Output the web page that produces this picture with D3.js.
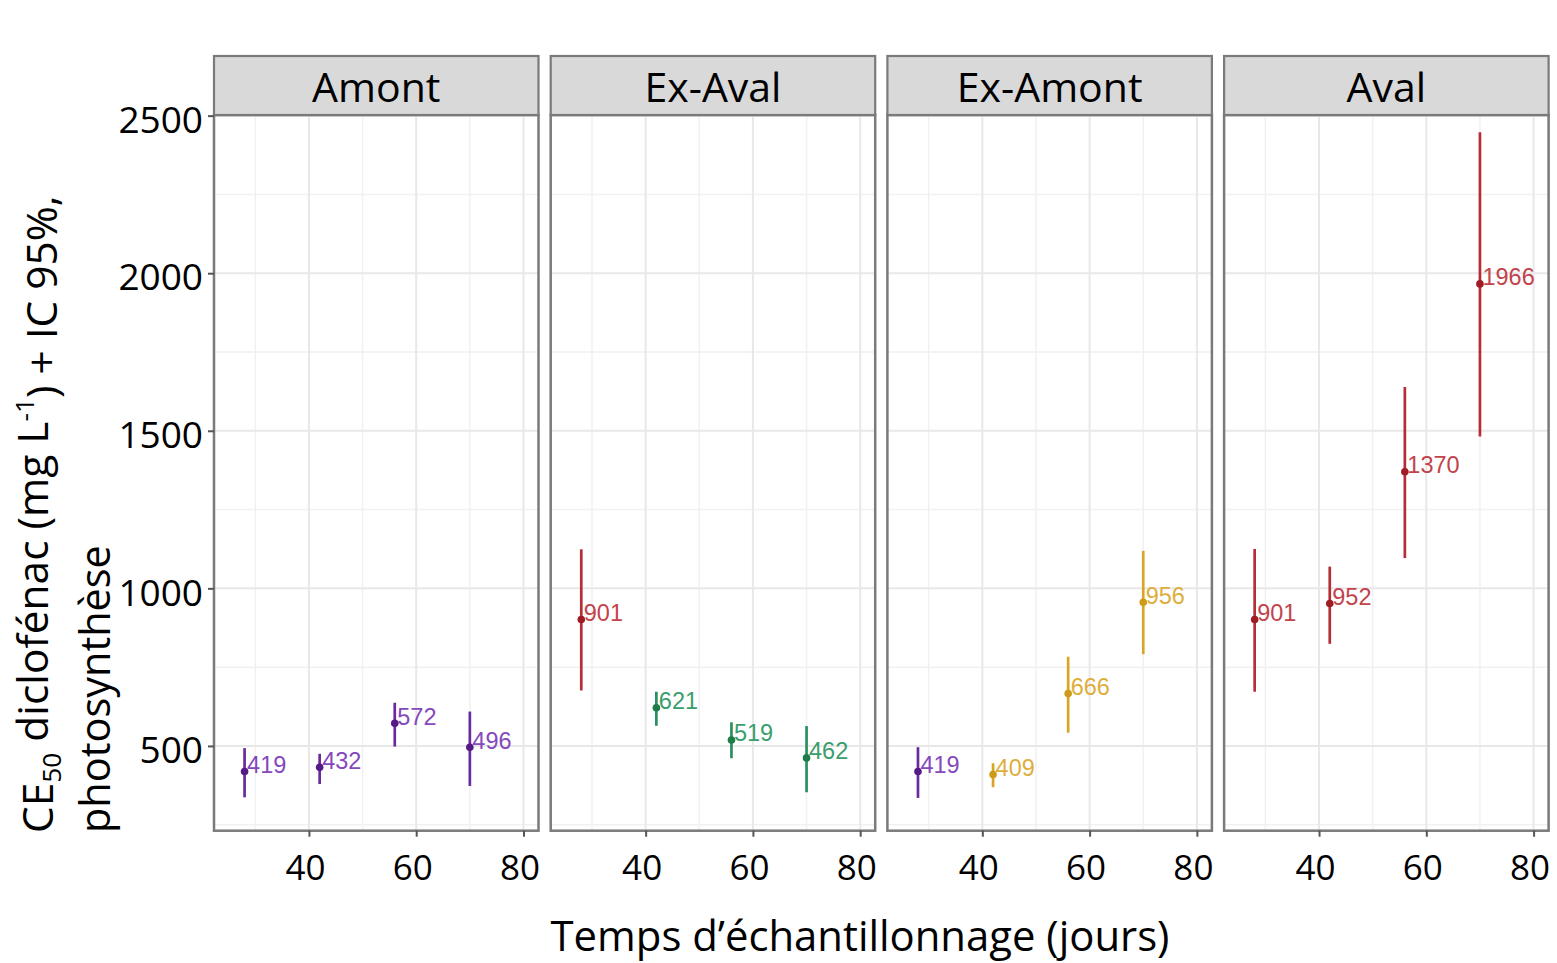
<!DOCTYPE html>
<html><head><meta charset="utf-8">
<script src="https://cdn.jsdelivr.net/npm/d3@7"></script>
<style>
html,body{margin:0;padding:0;background:#fff;}
svg{display:block;}
</style></head>
<body>
<svg id="chart" width="1557" height="963"></svg>
<script>
// ---- data ----
const facets = ["Amont", "Ex-Aval", "Ex-Amont", "Aval"];
const days = [28, 42, 56, 70];
const ec50Amont   = [419, 432, 572, 496];
const lowAmont    = [337, 379, 498, 373];
const highAmont   = [493, 475, 637, 609];
const ec50ExAval  = [901, 621, 519, 462];
const lowExAval   = [676, 564, 461, 353];
const highExAval  = [1124, 672, 575, 563];
const ec50ExAmont = [419, 409, 666, 956];
const lowExAmont  = [335, 369, 542, 791];
const highExAmont = [496, 445, 783, 1119];
const ec50Aval    = [901, 952, 1370, 1966];
const lowAval     = [672, 824, 1096, 1482];
const highAval    = [1125, 1069, 1639, 2447];
const groupAmont   = ["Amont", "Amont", "Amont", "Amont"];
const groupExAval  = ["Aval", "ExAval", "ExAval", "ExAval"];
const groupExAmont = ["Amont", "ExAmont", "ExAmont", "ExAmont"];
const groupAval    = ["Aval", "Aval", "Aval", "Aval"];
const xTicks = [40, 60, 80];
const xMinor = [30, 50, 70];
const yTicks = [500, 1000, 1500, 2000, 2500];
const yMinor = [250, 750, 1250, 1750, 2250];

const seriesByFacet = {
  "Amont":   {v: ec50Amont, lo: lowAmont, hi: highAmont, g: groupAmont},
  "Ex-Aval": {v: ec50ExAval, lo: lowExAval, hi: highExAval, g: groupExAval},
  "Ex-Amont":{v: ec50ExAmont, lo: lowExAmont, hi: highExAmont, g: groupExAmont},
  "Aval":    {v: ec50Aval, lo: lowAval, hi: highAval, g: groupAval}
};
const lineColor = {Amont: "#6a2a9c", ExAval: "#2a9060", ExAmont: "#d9a526", Aval: "#b52d36"};
const dotColor  = {Amont: "#561a88", ExAval: "#1d7d48", ExAmont: "#cf9a1a", Aval: "#9e1c24"};
const textColor = {Amont: "#8548bd", ExAval: "#3a9e6c", ExAmont: "#deae3c", Aval: "#c2434b"};

// ---- layout ----
const svg = d3.select("#chart");
const FONT = "'Open Sans', 'Noto Sans', sans-serif";
const panelTop = 115, panelBottom = 830.7;
const stripTop = 56;
const panelW = 324.5, panelStep = 336.7, firstLeft = 214;

const y = d3.scaleLinear().domain([231, 2502]).range([panelBottom, panelTop]);

function fitText(sel, target, size) {
  const w = sel.node().getComputedTextLength();
  if (w > 0) sel.attr("font-size", size * target / w);
}

facets.forEach((name, i) => {
  const left = firstLeft + i * panelStep;
  const x = d3.scaleLinear().domain([22.3, 82.8]).range([left, left + panelW]);
  const g = svg.append("g");

  g.append("rect").attr("x", left).attr("y", panelTop).attr("width", panelW)
    .attr("height", panelBottom - panelTop).attr("fill", "#fff");

  // minor grid
  g.selectAll(".ymin").data(yMinor.filter(d => y(d) > panelTop && y(d) < panelBottom)).join("line")
    .attr("x1", left).attr("x2", left + panelW).attr("y1", d => y(d)).attr("y2", d => y(d))
    .attr("stroke", "#f1f1f1").attr("stroke-width", 1.5);
  g.selectAll(".xmin").data(xMinor).join("line")
    .attr("x1", d => x(d)).attr("x2", d => x(d)).attr("y1", panelTop).attr("y2", panelBottom)
    .attr("stroke", "#f1f1f1").attr("stroke-width", 1.5);
  // major grid
  g.selectAll(".ymaj").data(yTicks).join("line")
    .attr("x1", left).attr("x2", left + panelW).attr("y1", d => y(d)).attr("y2", d => y(d))
    .attr("stroke", "#e8e8e8").attr("stroke-width", 2);
  g.selectAll(".xmaj").data(xTicks).join("line")
    .attr("x1", d => x(d)).attr("x2", d => x(d)).attr("y1", panelTop).attr("y2", panelBottom)
    .attr("stroke", "#e8e8e8").attr("stroke-width", 2);

  // data
  const s = seriesByFacet[name];
  const pts = days.map((d, k) => ({day: d, v: s.v[k], lo: s.lo[k], hi: s.hi[k], g: s.g[k]}));
  g.selectAll(".err").data(pts).join("line")
    .attr("x1", d => x(d.day)).attr("x2", d => x(d.day))
    .attr("y1", d => y(d.lo)).attr("y2", d => y(d.hi))
    .attr("stroke", d => lineColor[d.g]).attr("stroke-width", 2.7);
  g.selectAll(".pt").data(pts).join("circle")
    .attr("cx", d => x(d.day)).attr("cy", d => y(d.v)).attr("r", 3.8)
    .attr("fill", d => dotColor[d.g]);
  g.selectAll(".lab").data(pts).join("text")
    .attr("x", d => x(d.day) + 2.5).attr("y", d => y(d.v) + 1.5)
    .attr("font-family", "'Liberation Sans', Arial, sans-serif").attr("font-size", 23.5)
    .attr("fill", d => textColor[d.g]).text(d => d.v);

  // panel border
  g.append("rect").attr("x", left).attr("y", panelTop).attr("width", panelW)
    .attr("height", panelBottom - panelTop).attr("fill", "none")
    .attr("stroke", "#7a7a7a").attr("stroke-width", 2.5);

  // strip
  g.append("rect").attr("x", left).attr("y", stripTop).attr("width", panelW)
    .attr("height", panelTop - stripTop).attr("fill", "#d9d9d9")
    .attr("stroke", "#7a7a7a").attr("stroke-width", 2.2);
  g.append("text").attr("x", left + panelW / 2).attr("y", 102)
    .attr("text-anchor", "middle").attr("font-family", FONT).attr("font-size", 41)
    .attr("fill", "#000").text(name);

  // x axis
  const xAxis = d3.axisBottom(x).tickValues(xTicks).tickSize(6).tickPadding(0).tickFormat(d3.format("d"));
  const ax = g.append("g").attr("transform", `translate(0,${panelBottom})`).call(xAxis);
  ax.select(".domain").remove();
  ax.selectAll(".tick line").attr("stroke", "#555").attr("stroke-width", 2);
  ax.selectAll(".tick text").attr("font-family", FONT).attr("font-size", 35)
    .attr("fill", "#000").attr("dy", null).attr("y", 49).attr("x", -4);
});

// y axis
const yAxis = d3.axisLeft(y).tickValues(yTicks).tickSize(6).tickPadding(5).tickFormat(d3.format("d"));
const ay = svg.append("g").attr("transform", `translate(${firstLeft},0)`).call(yAxis);
ay.select(".domain").remove();
ay.selectAll(".tick line").attr("stroke", "#555").attr("stroke-width", 2);
ay.selectAll(".tick text").attr("font-family", FONT).attr("font-size", 37)
  .attr("fill", "#000").attr("x", -11).attr("dy", "0.45em");

// x title
const xt = svg.append("text").attr("x", 860).attr("y", 951).attr("text-anchor", "middle")
  .attr("font-family", FONT).attr("font-size", 40).attr("fill", "#000")
  .text("Temps d\u2019\u00e9chantillonnage (jours)");
fitText(xt, 619, 40);

// y title (two lines, rotated)
const yt1 = svg.append("text").attr("transform", "translate(53,833) rotate(-90)")
  .attr("font-family", FONT).attr("font-size", 40).attr("fill", "#000");
yt1.append("tspan").text("CE");
yt1.append("tspan").attr("font-size", "0.62em").attr("dy", "0.3em").text("50");
yt1.append("tspan").attr("dy", "-0.3em").text(" diclof\u00e9nac (mg L");
yt1.append("tspan").attr("font-size", "0.62em").attr("dy", "-0.55em").text("-1");
yt1.append("tspan").attr("dy", "0.55em").text(") + IC 95%,");
fitText(yt1, 638, 40);

const yt2 = svg.append("text").attr("transform", "translate(110,833) rotate(-90)")
  .attr("font-family", FONT).attr("font-size", 40).attr("fill", "#000")
  .text("photosynth\u00e8se");
fitText(yt2, 288, 40);
</script>
</body></html>
